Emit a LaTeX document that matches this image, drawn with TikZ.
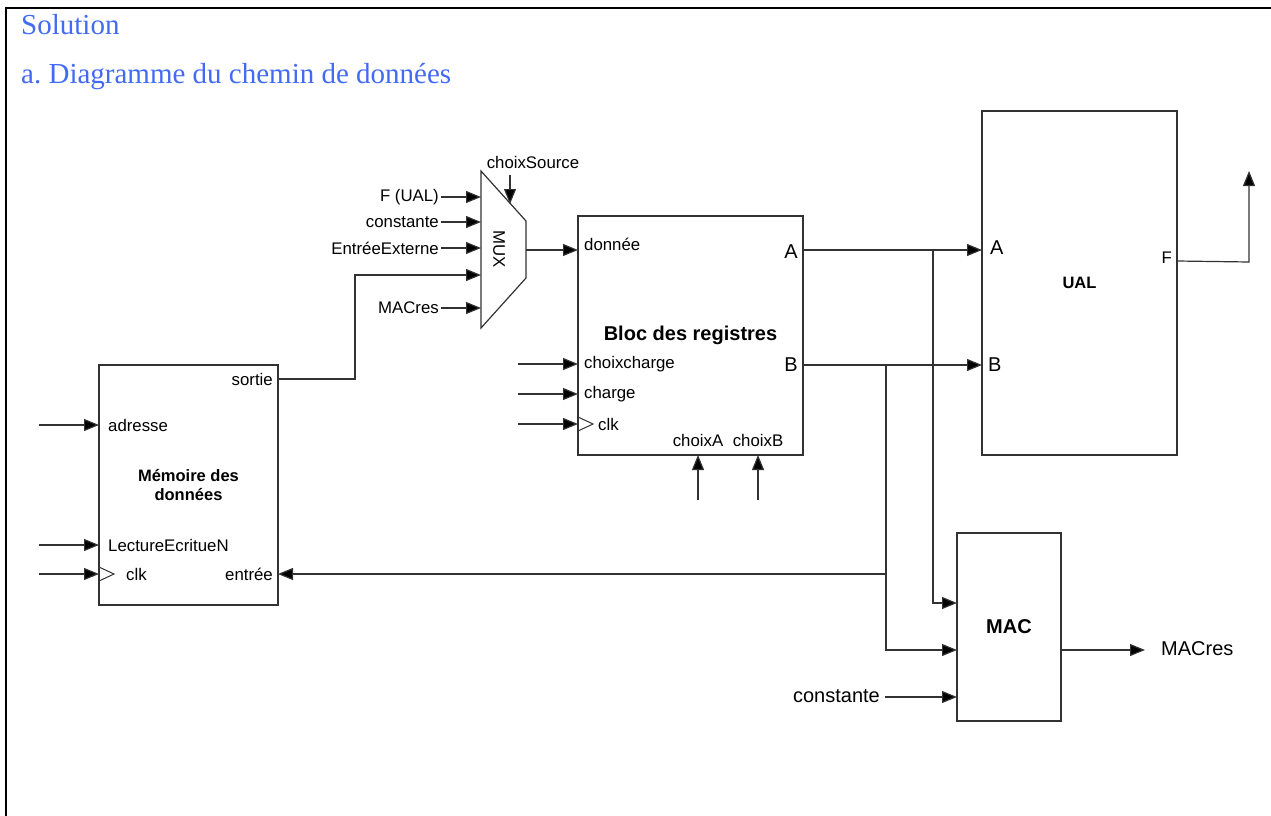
\documentclass[tikz,border=0pt]{standalone}
\usepackage{fontspec}
\setmainfont{Liberation Serif}
\setsansfont{Liberation Sans}
\usetikzlibrary{arrows.meta,positioning,calc}
\definecolor{titleblue}{RGB}{66,106,242}
\definecolor{wire}{RGB}{50,50,50}
\tikzset{
  block/.style={
    draw = wire,
    line width = 1.2pt,
    inner sep = 0pt,
    font = \sffamily\bfseries\fontsize{16.5}{19}\selectfont,
    align = center
  },
  pin/.style={
    font = \sffamily\fontsize{16.8}{18}\selectfont,
    inner sep = 2pt
  },
  bigpin/.style={
    font = \sffamily\fontsize{20}{22}\selectfont,
    inner sep = 2pt
  },
  bus/.style={
    draw = wire,
    line width = 1.2pt
  },
  wirein/.style={
    bus,
    -{Triangle[length=15pt,width=12pt,fill=black]}
  },
  clock/.style={
    draw = wire,
    line width = 1pt
  },
  heading/.style={
    font = \fontsize{29}{32}\selectfont,
    text = titleblue,
    anchor = base west,
    inner sep = 0pt
  }
}
\begin{document}
\begin{tikzpicture}[x=1pt,y=-1pt]
    \useasboundingbox (0,0) rectangle (1271,816);
    % cadre et titres
    \draw[line width=2.5pt] (6,816) -- (6,8) -- (1271,8);
    \node[heading] (sol) at (21,35) {Solution};
    \node[heading] (chem) at (21,84) {a.\ Diagramme du chemin de donn\'ees};

    % blocs
    \node[block, minimum width=179pt, minimum height=240pt] (mem) at (188.5,485) {M\'emoire des\\donn\'ees};
    \node[block, minimum width=225pt, minimum height=239pt, font=\sffamily\bfseries\fontsize{20}{22}\selectfont] (reg) at (690.5,335.5) {Bloc des registres};
    \node[block, minimum width=195pt, minimum height=344pt] (ual) at (1079.5,283) {UAL};
    \node[block, minimum width=104pt, minimum height=188pt, font=\sffamily\bfseries\fontsize{20}{22}\selectfont] (mac) at (1009,627) {MAC};

    % multiplexeur
    \coordinate (mux-tl) at (481,171);
    \coordinate (mux-bl) at (481,328);
    \coordinate (mux-tr) at (526,221);
    \coordinate (mux-br) at (526,278);
    \draw[bus] (mux-tl) -- (mux-tr) -- (mux-br) -- (mux-bl) -- cycle;
    \node[pin, rotate=-90] (muxlbl) at (499,249.5) {MUX};
    \coordinate (mux-out) at (526,250);
    \coordinate (mux-sel) at (510,204);
    \coordinate (mux-sel-src) at (510,175);
    \node[pin] (sellbl) at (533,162) {choixSource};
    \draw[wirein] (mux-sel-src) -- (mux-sel);
    \foreach \nm/\yy/\txt in {fual/197/F (UAL), cst/222/constante, ext/248/Entr\'eeExterne, macr/308/MACres}{
    \node[pin, anchor=east] (mux-\nm-lbl) at (441,\yy) {\txt};
    \coordinate (mux-\nm) at (481,\yy);
    \draw[wirein] (mux-\nm-lbl.east) -- (mux-\nm);}
    \coordinate (mux-mem) at (481,275);

    % memoire des donnees
    \foreach \nm/\yy/\txt in {adr/425/adresse, rw/545/LectureEcritueN}{
    \coordinate (mem-\nm) at (99,\yy);
    \coordinate (mem-\nm-src) at (39,\yy);
    \node[pin, anchor=west] (mem-\nm-lbl) at (106,\yy) {\txt};
    \draw[wirein] (mem-\nm-src) -- (mem-\nm);}
    \coordinate (mem-clk) at (99,574);
    \coordinate (mem-clk-src) at (39,574);
    \draw[wirein] (mem-clk-src) -- (mem-clk);
    \draw[clock] (99,567) -- (114,574) -- (99,581);
    \node[pin, anchor=west] (mem-clk-lbl) at (124,574) {clk};
    \coordinate (mem-out) at (278,379);
    \node[pin, anchor=east] (mem-out-lbl) at (275,379) {sortie};
    \coordinate (mem-in) at (278,574);
    \node[pin, anchor=east] (mem-in-lbl) at (275,574) {entr\'ee};
    \draw[wirein] (mem-out) -| (355,275) -- (mux-mem);

    % bloc des registres
    \coordinate (reg-d) at (578,250);
    \node[pin, anchor=west] (reg-d-lbl) at (582,244) {donn\'ee};
    \draw[wirein] (mux-out) -- (reg-d);
    \foreach \nm/\yy/\txt in {cc/364/choixcharge, ch/394/charge}{
    \coordinate (reg-\nm) at (578,\yy);
    \coordinate (reg-\nm-src) at (518,\yy);
    \node[pin, anchor=west] (reg-\nm-lbl) at (582,\yy) {\txt};
    \draw[wirein] (reg-\nm-src) -- (reg-\nm);}
    \coordinate (reg-clk) at (578,424);
    \coordinate (reg-clk-src) at (518,424);
    \draw[wirein] (reg-clk-src) -- (reg-clk);
    \draw[clock] (578,417) -- (593,424) -- (578,431);
    \node[pin, anchor=west] (reg-clk-lbl) at (596,424) {clk};
    \foreach \nm/\xx/\txt in {sa/698/choixA, sb/758/choixB}{
    \coordinate (reg-\nm) at (\xx,455);
    \coordinate (reg-\nm-src) at (\xx,500);
    \node[pin] (reg-\nm-lbl) at (\xx,440) {\txt};
    \draw[wirein] (reg-\nm-src) -- (reg-\nm);}
    \coordinate (reg-a) at (803,250);
    \coordinate (reg-b) at (803,365);
    \node[bigpin, anchor=east] (reg-a-lbl) at (800,252) {A};
    \node[bigpin, anchor=east] (reg-b-lbl) at (800,365) {B};

    % UAL
    \coordinate (ual-a) at (982,250);
    \coordinate (ual-b) at (982,365);
    \node[bigpin, anchor=west] (ual-a-lbl) at (988,248) {A};
    \node[bigpin, anchor=west] (ual-b-lbl) at (986,365) {B};
    \coordinate (ual-f) at (1177,261);
    \node[pin, anchor=east] (ual-f-lbl) at (1174,258) {F};
    \coordinate (ual-f-dst) at (1249,171);
    \draw[wirein] (ual-f) -- (1249,262) -- (ual-f-dst);
    \draw[wirein] (reg-a) -- (ual-a);
    \draw[wirein] (reg-b) -- (ual-b);

    % MAC
    \coordinate (mac-a) at (957,603);
    \coordinate (mac-b) at (957,650);
    \coordinate (mac-c) at (957,697);
    \coordinate (mac-c-src) at (885,697);
    \node[bigpin, anchor=east] (mac-c-lbl) at (882,696) {constante};
    \draw[wirein] (mac-c-src) -- (mac-c);
    \draw[wirein] (reg-a -| 933,0) |- (mac-a);
    \draw[wirein] (reg-b -| 886,0) |- (mac-b);
    \draw[wirein] (886,574) -- (mem-in);
    \coordinate (mac-out) at (1061,650);
    \coordinate (mac-out-dst) at (1145,650);
    \node[bigpin, anchor=west] (mac-out-lbl) at (1159,649) {MACres};
    \draw[wirein] (mac-out) -- (mac-out-dst);
\end{tikzpicture}
\end{document}
